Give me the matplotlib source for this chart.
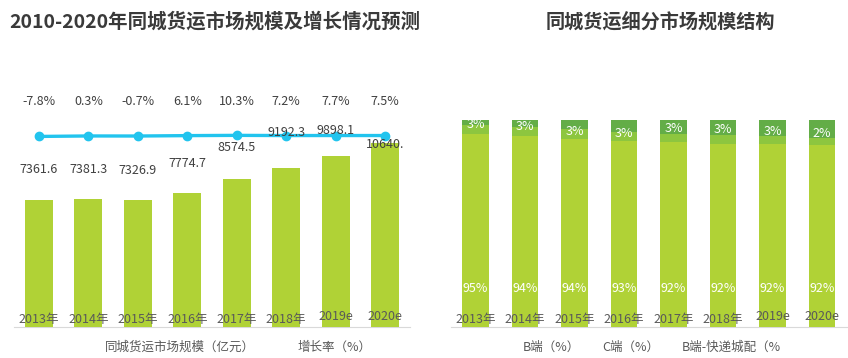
import matplotlib
matplotlib.use("Agg")
import matplotlib.pyplot as plt

plt.rcParams['font.family'] = ['Noto Sans CJK SC', 'DejaVu Sans']

# ---------------- data ----------------
years = ['2013年', '2014年', '2015年', '2016年', '2017年', '2018年', '2019e', '2020e']
market_size = [7361.6, 7381.3, 7326.9, 7774.7, 8574.5, 9192.3, 9898.1, 10640.5]
growth_rate = [-7.8, 0.3, -0.7, 6.1, 10.3, 7.2, 7.7, 7.5]
size_labels = ['7361.6', '7381.3', '7326.9', '7774.7', '8574.5', '9192.3', '9898.1', '10640.']

b_share = [93.1, 92.3, 90.8, 89.8, 89.2, 88.5, 88.2, 87.8]
c_share = [4.2, 4.3, 4.5, 4.3, 3.7, 3.9, 3.7, 3.5]
express_share = [2.7, 3.4, 4.7, 5.9, 7.1, 7.6, 8.1, 8.7]
b_labels = ['95%', '94%', '94%', '93%', '92%', '92%', '92%', '92%']
c_labels = ['3%', '3%', '3%', '3%', '3%', '3%', '3%', '2%']

left_title = '2010-2020年同城货运市场规模及增长情况预测'
right_title = '同城货运细分市场规模结构'
left_legend = ['同城货运市场规模（亿元）', '增长率（%）']
right_legend = ['B端（%）', 'C端（%）', 'B端-快递城配（%']

# ---------------- style ----------------
BAR = '#B0D236'
MID = '#8DC63F'
DARK = '#63AD47'
LINE = '#22C4EE'
TXT = '#404040'
AX = '#D9D9D9'

W, H = 848, 358
fig = plt.figure(figsize=(W / 100, H / 100), dpi=100)

def fx(px):
    return px / W

def fy(py):
    return 1 - py / H

# ---------------- left chart ----------------
axl = fig.add_axes([fx(14.3), 31 / H, fx(395.4), 237 / H])
x = list(range(len(years)))
axl.bar(x, market_size, width=0.567, color=BAR, zorder=3)
axl.set_xlim(-0.5, len(years) - 0.5)
axl.set_ylim(0, 13720)
for s in ['top', 'left', 'right']:
    axl.spines[s].set_visible(False)
axl.spines['bottom'].set_color(AX)
axl.set_xticks([])
axl.set_yticks([])
axl.patch.set_alpha(0)

axr2 = axl.twinx()
axr2.set_zorder(axl.get_zorder() - 1)
axr2.plot(x, [g / 100 for g in growth_rate], color=LINE, lw=2.4,
          marker='o', ms=6, zorder=1)
S = 40
axr2.set_ylim(-0.806 * S, 0.194 * S)
axr2.set_yticks([])
for s in axr2.spines.values():
    s.set_visible(False)

size_offsets = [30, 29.5, 29.5, 29.5, 31, 36, 26, -1]
for i, (v, lab, off) in enumerate(zip(market_size, size_labels, size_offsets)):
    axl.annotate(lab, (i, v), xytext=(0, off), textcoords='offset pixels',
                 ha='center', va='center', fontsize=9, color=TXT, zorder=5)

for i, g in enumerate(growth_rate):
    axl.annotate(f'{g:.1f}%', (i, 0.9506), xycoords=('data', 'axes fraction'),
                 ha='center', va='center', fontsize=9, color=TXT)

year_offsets = [8, 8, 8, 8, 8, 8, 11, 11]
for i, (yl, off) in enumerate(zip(years, year_offsets)):
    axl.annotate(yl, (i, 0), xycoords=('data', 'axes fraction'),
                 xytext=(0, off), textcoords='offset pixels',
                 ha='center', va='center', fontsize=9, color='#595959', zorder=6)

# ---------------- right chart ----------------
axr = fig.add_axes([fx(450.75), 31 / H, fx(396), 207.3 / H])
axr.bar(x, b_share, width=0.545, color=BAR, zorder=3)
axr.bar(x, c_share, width=0.545, bottom=b_share, color=MID, zorder=3)
bottom3 = [a + b for a, b in zip(b_share, c_share)]
axr.bar(x, express_share, width=0.545, bottom=bottom3, color=DARK, zorder=3)
axr.set_xlim(-0.5, len(years) - 0.5)
axr.set_ylim(0, 100)
for s in ['top', 'left', 'right']:
    axr.spines[s].set_visible(False)
axr.spines['bottom'].set_color(AX)
axr.set_xticks([])
axr.set_yticks([])

for i, lab in enumerate(b_labels):
    axr.annotate(lab, (i, 0), xytext=(0, 38.7), textcoords='offset pixels',
                 ha='center', va='center', fontsize=9, color='white', zorder=5)

c_offsets = [-5, -5, -3, -3, -10, -10, -9, -8]
for i, (lab, off) in enumerate(zip(c_labels, c_offsets)):
    ymid = b_share[i] + c_share[i] / 2
    axr.annotate(lab, (i, ymid), xytext=(0, -off), textcoords='offset pixels',
                 ha='center', va='center', fontsize=9, color='white', zorder=5)

for i, (yl, off) in enumerate(zip(years, year_offsets)):
    axr.annotate(yl, (i, 0), xycoords=('data', 'axes fraction'),
                 xytext=(0, off), textcoords='offset pixels',
                 ha='center', va='center', fontsize=9, color='#595959', zorder=6)

# ---------------- titles & legends ----------------
fig.text(fx(215), fy(22), left_title, ha='center', va='center',
         fontsize=14, fontweight='bold', color='#3A3A3A')
fig.text(fx(660), fy(22), right_title, ha='center', va='center',
         fontsize=13.8, fontweight='bold', color='#3A3A3A')

for lab, px in zip(left_legend, [105, 298]):
    fig.text(fx(px), fy(347), lab, ha='left', va='center', fontsize=9, color='#595959')
for lab, px in zip(right_legend, [523, 602, 682]):
    fig.text(fx(px), fy(347), lab, ha='left', va='center', fontsize=9, color='#595959')

fig.savefig('out.png', dpi=100)
